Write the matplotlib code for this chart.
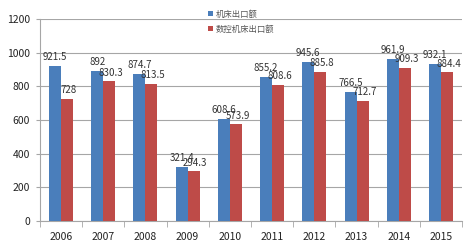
import matplotlib.pyplot as plt
import numpy as np

plt.rcParams['font.family'] = ['Noto Sans CJK SC', 'DejaVu Sans']

years = ['2006', '2007', '2008', '2009', '2010', '2011', '2012', '2013', '2014', '2015']
machine_export = [921.5, 892, 874.7, 321.4, 608.6, 855.2, 945.6, 766.5, 961.9, 932.1]
cnc_export = [728, 830.3, 813.5, 294.3, 573.9, 808.6, 885.8, 712.7, 909.3, 884.4]
labels = ['机床出口额', '数控机床出口额']

blue = '#4A7EBB'
red = '#BE4B48'
grid_c = '#A6A6A6'

fig = plt.figure(figsize=(4.74, 2.45), dpi=100)
ax = fig.add_axes([0.084, 0.098, 0.891, 0.824])

x = np.arange(len(years))
w = 0.285
b1 = ax.bar(x - w / 2, machine_export, w, color=blue, label=labels[0], zorder=3)
b2 = ax.bar(x + w / 2, cnc_export, w, color=red, label=labels[1], zorder=3)

for rect, v in zip(b1, machine_export):
    ax.text(rect.get_x() + rect.get_width() / 2, v + 22, f'{v:g}', ha='center', va='bottom',
            fontsize=7, color='#333333', zorder=4)
for rect, v in zip(b2, cnc_export):
    ax.text(rect.get_x() + rect.get_width() / 2 + 0.04, v + 22, f'{v:g}', ha='center', va='bottom',
            fontsize=7, color='#333333', zorder=4)

ax.set_ylim(0, 1200)
ax.set_yticks(range(0, 1201, 200))
ax.set_xlim(-0.5, len(years) - 0.5)
ax.set_xticks(x)
ax.set_xticklabels(years)
ax.set_xticks(np.arange(-0.5, len(years)), minor=True)
ax.tick_params(axis='x', which='major', length=0, labelsize=7.5, pad=8, colors='#222222')
ax.tick_params(axis='x', which='minor', length=4, color=grid_c)
ax.tick_params(axis='y', length=3, labelsize=7.5, color=grid_c, labelcolor='#222222', pad=4)
ax.yaxis.grid(True, color=grid_c, linewidth=0.8, zorder=0)

for s in ['top', 'right']:
    ax.spines[s].set_visible(False)
for s in ['left', 'bottom']:
    ax.spines[s].set_color(grid_c)

ax.legend(loc='upper left', bbox_to_anchor=(0.38, 1.085), frameon=False, fontsize=6,
          handlelength=0.6, handleheight=0.6, handletextpad=0.3, labelspacing=0.75,
          labelcolor='#555555')

fig.savefig('out.png', dpi=100)
